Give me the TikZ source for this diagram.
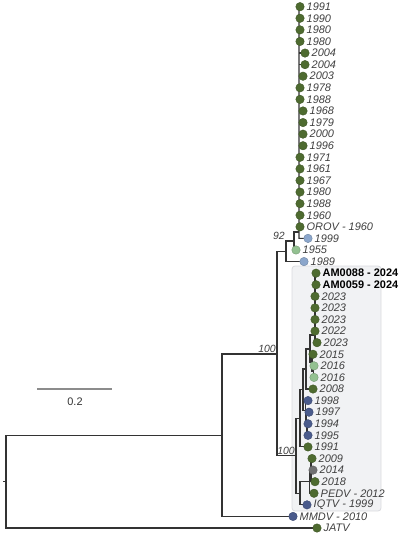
\documentclass[tikz,border=0pt]{standalone}
\usepackage{fontspec}
\setmainfont{Liberation Sans}
\definecolor{dg}{HTML}{4E6B30}
\definecolor{lg}{HTML}{93C191}
\definecolor{lb}{HTML}{8BA6CB}
\definecolor{nv}{HTML}{4A5B8C}
\definecolor{gy}{HTML}{707072}
\definecolor{brc}{HTML}{333333}
\definecolor{tx}{HTML}{404040}
\definecolor{boxfill}{HTML}{F1F2F4}
\definecolor{boxline}{HTML}{DADBDF}
\tikzset{
 br/.style={draw=brc, line width=1.1bp},
 dot/.style={circle, fill=#1, draw=#1!80!black, line width=0.4bp, minimum size=8.5bp, inner sep=0},
 lab/.style={anchor=west, font=\fontsize{11}{13}\selectfont\itshape, text=tx, inner sep=0},
 blab/.style={anchor=west, font=\fontsize{11}{13}\selectfont\bfseries, text=black, inner sep=0},
 nlab/.style={anchor=south east, font=\fontsize{10.5}{12}\selectfont\itshape, text=tx, inner sep=1bp},
}
\begin{document}
\begin{tikzpicture}[x=1bp,y=-1bp]
\useasboundingbox (0,0) rectangle (401,534);
% highlight box
\draw[fill=boxfill, draw=boxline, line width=0.8bp, rounded corners=3bp] (292,266) rectangle (381,511);
% leaf coordinates
\foreach \n/\x/\i in {0/300/0,1/300/1,2/300/2,3/300/3,4/305/4,5/305/5,6/303/6,7/300/7,8/300/8,9/303/9,
 10/303/10,11/303/11,12/303/12,13/300/13,14/300/14,15/300/15,16/300/16,17/300/17,18/300/18,19/300/19,
 20/308/20,21/296/21,22/304/22,23/316/23,24/316/24,25/315/25,26/315/26,27/315/27,28/315/28,29/317/29,
 30/313/30,31/314/31,32/314/32,33/313/33,34/308/34,35/309/35,36/308/36,37/308/37,38/308/38,39/312/39,
 40/313/40,41/315/41,42/314/42,43/307/43,44/293/44,45/317/45}
 {\coordinate (l\n) at (\x,{6.7+11.585*\i});}
% internal nodes
\coordinate (R0) at (6,481.6);
\coordinate (rstub) at (2.5,481.6);
\coordinate (A) at (222,435.2);
\coordinate (B) at (277,354);
\coordinate (C) at (286,251.3);
\coordinate (E) at (294,241);
\coordinate (Fj) at (299,232);
\coordinate (sTop) at (299,6.7);
\coordinate (sBot) at (299,238.4);
\coordinate (D) at (296,455.8);
\coordinate (H) at (300,418.4);
\coordinate (R) at (303,389.9);
\coordinate (P) at (306,369);
\coordinate (V) at (310,349);
\coordinate (W) at (315,335);
\coordinate (wTop) at (315,273.2);
\coordinate (wBot) at (315,342.7);
\coordinate (X) at (312,362.9);
\coordinate (Y) at (313.5,371.6);
\coordinate (S) at (305.5,410.7);
\coordinate (T) at (306.5,420.9);
\coordinate (U) at (307,429.6);
\coordinate (K) at (300,493.3);
\coordinate (L) at (309.5,481.6);
\coordinate (M) at (311,470);
% branches
\draw[br] (R0) -- (rstub);
\draw[br] (R0) |- (A);
\draw[br] (R0) |- (l45);
\draw[br] (A) |- (B);
\draw[br] (A) |- (l44);
\draw[br] (B) |- (C);
\draw[br] (B) |- (D);
\draw[br] (C) |- (E);
\draw[br] (C) |- (l22);
\draw[br] (E) |- (Fj);
\draw[br] (E) |- (l21);
\draw[br] (sTop) -- (sBot) -- (l20);
\foreach \n in {4,5,6,9,10,11,12} {\draw[br] (l\n -| sTop) -- (l\n);}
% boxed clade
\draw[br] (D) |- (H);
\draw[br] (D) |- (K);
\draw[br] (H) |- (R);
\draw[br] (H) |- (l38);
\draw[br] (R) |- (P);
\draw[br] (R) |- (S);
\draw[br] (P) |- (V);
\draw[br] (P) |- (l33);
\draw[br] (V) |- (W);
\draw[br] (V) |- (X);
\draw[br] (wTop) -- (wBot);
\foreach \n in {23,24,29} {\draw[br] (l\n -| wTop) -- (l\n);}
\draw[br] (X) |- (l30);
\draw[br] (X) |- (Y);
\draw[br] (Y) |- (l31);
\draw[br] (Y) |- (l32);
\draw[br] (S) |- (l34);
\draw[br] (S) |- (T);
\draw[br] (T) |- (l35);
\draw[br] (T) |- (U);
\draw[br] (U) |- (l36);
\draw[br] (U) |- (l37);
\draw[br] (K) |- (L);
\draw[br] (K) |- (l43);
\draw[br] (L) |- (M);
\draw[br] (L) |- (l42);
\draw[br] (M) |- (l39);
\draw[br] (M) |- (l41);
\draw[br] (M) -- (l40);
% node support labels
\node[nlab] (s92) at (E -| C) {92};
\node[nlab] (s100a) at (B) {100};
\node[nlab] (s100b) at (D) {100};
% dots and labels
\foreach \n/\c/\t in {0/dg/1991,1/dg/1990,2/dg/1980,3/dg/1980,4/dg/2004,5/dg/2004,6/dg/2003,7/dg/1978,
 8/dg/1988,9/dg/1968,10/dg/1979,11/dg/2000,12/dg/1996,13/dg/1971,14/dg/1961,15/dg/1967,16/dg/1980,
 17/dg/1988,18/dg/1960,19/dg/OROV - 1960,20/lb/1999,21/lg/1955,22/lb/1989,25/dg/2023,26/dg/2023,
 27/dg/2023,28/dg/2022,29/dg/2023,30/dg/2015,31/lg/2016,32/lg/2016,33/dg/2008,34/nv/1998,35/nv/1997,
 36/nv/1994,37/nv/1995,38/dg/1991,39/dg/2009,40/gy/2014,41/dg/2018,42/dg/PEDV - 2012,43/nv/IQTV - 1999,
 44/nv/MMDV - 2010,45/dg/JATV}
 {\node[dot=\c] (d\n) at (l\n) {};
  \node[lab] (t\n) at ([xshift=6.5bp]l\n) {\t};}
\foreach \n/\t in {23/AM0088 - 2024,24/AM0059 - 2024}
 {\node[dot=dg] (d\n) at (l\n) {};
  \node[blab] (t\n) at ([xshift=6.5bp]l\n) {\t};}
% scale bar
\coordinate (sb1) at (37,389);
\coordinate (sb2) at (112,389);
\draw[draw=gray!90, line width=1.2bp] (sb1) -- (sb2);
\node[font=\fontsize{11}{13}\selectfont, text=brc] (sbl) at (75,402) {0.2};
\end{tikzpicture}
\end{document}
